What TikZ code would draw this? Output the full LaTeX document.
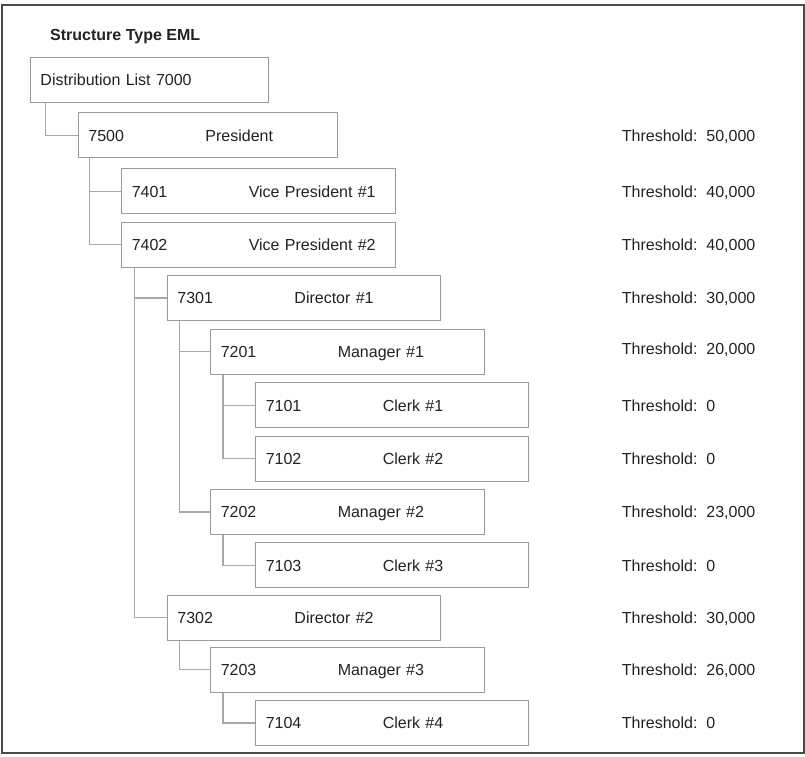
\documentclass[tikz,border=0pt]{standalone}
\usepackage{fontspec}
\setmainfont{Liberation Sans}
\definecolor{txt}{HTML}{222222}
\definecolor{boxc}{HTML}{9A9A9A}
\definecolor{connc}{HTML}{A8A8A8}
\definecolor{framec}{HTML}{4A4A4A}
\begin{document}
\begin{tikzpicture}[x=1pt,y=-1pt,
  every node/.style={font=\fontsize{16}{19}\selectfont, text=txt},
  box/.style={draw=boxc, line width=0.9pt, rectangle, anchor=north west,
    minimum height=45pt, inner xsep=10pt, inner ysep=0pt,
    text height=11.6pt, text depth=0pt, align=left, text width=#1},
  box/.default=253pt,
  conn/.style={draw=connc, line width=1.1pt},
  thr/.style={anchor=west, inner sep=0pt, text height=11.6pt, text depth=0pt},
  frame/.style={draw=framec, line width=2pt}]
\useasboundingbox (0,0) rectangle (805,756);
\draw[frame] (1.5,4.5) rectangle (803.5,752.5);
\coordinate (thrx) at (621.7,0);
\newcommand{\lbl}[2]{\makebox[117pt][l]{#1}#2}

\node[font=\fontsize{16}{19}\selectfont\bfseries, anchor=base west, inner sep=0pt] (title) at (50,40) {Structure Type EML};

\node[box=218pt] (b7000) at (30,57) {Distribution List 7000};
\node[box=239pt] (b7500) at (78,112.3) {\lbl{7500}{President}};
\node[box=254pt] (b7401) at (121.3,168.3) {\lbl{7401}{Vice President \#1}};
\node[box=254pt] (b7402) at (121.3,221.5) {\lbl{7402}{Vice President \#2}};
\node[box] (b7301) at (167,275) {\lbl{7301}{Director \#1}};
\node[box=254pt] (b7201) at (210.3,328.7) {\lbl{7201}{Manager \#1}};
\node[box] (b7101) at (255.3,382.3) {\lbl{7101}{Clerk \#1}};
\node[box] (b7102) at (255.3,435.5) {\lbl{7102}{Clerk \#2}};
\node[box=254pt] (b7202) at (210.3,489) {\lbl{7202}{Manager \#2}};
\node[box] (b7103) at (255.3,542.3) {\lbl{7103}{Clerk \#3}};
\node[box] (b7302) at (167,594.7) {\lbl{7302}{Director \#2}};
\node[box=254pt] (b7203) at (210.3,646.7) {\lbl{7203}{Manager \#3}};
\node[box] (b7104) at (255.3,700) {\lbl{7104}{Clerk \#4}};

\coordinate (r7000) at ([xshift=15.3pt]b7000.south west);
\coordinate (r7500) at ([xshift=11.3pt]b7500.south west);
\coordinate (r7402) at ([xshift=13.4pt]b7402.south west);
\coordinate (r7301) at ([xshift=12.3pt]b7301.south west);
\coordinate (r7201) at ([xshift=12.7pt]b7201.south west);
\coordinate (r7202) at ([xshift=12.7pt]b7202.south west);
\coordinate (r7302) at ([xshift=12.3pt]b7302.south west);
\coordinate (r7203) at ([xshift=12.7pt]b7203.south west);

\draw[conn] (r7000) |- (b7500.west);
\draw[conn] (r7500) |- (b7402.west);
\draw[conn] (r7500 |- b7401.west) -- (b7401.west);
\draw[conn] (r7402) |- (b7302.west);
\draw[conn] (r7402 |- b7301.west) -- (b7301.west);
\draw[conn] (r7301) |- (b7202.west);
\draw[conn] (r7301 |- b7201.west) -- (b7201.west);
\draw[conn] (r7201) |- (b7102.west);
\draw[conn] (r7201 |- b7101.west) -- (b7101.west);
\draw[conn] (r7202) |- (b7103.west);
\draw[conn] (r7302) |- (b7203.west);
\draw[conn] (r7203) |- (b7104.west);

\node[thr] (t7500) at (b7500.west -| thrx) {Threshold:\ \ 50,000};
\node[thr] (t7401) at (b7401.west -| thrx) {Threshold:\ \ 40,000};
\node[thr] (t7402) at (b7402.west -| thrx) {Threshold:\ \ 40,000};
\node[thr] (t7301) at (b7301.west -| thrx) {Threshold:\ \ 30,000};
\node[thr] (t7201) at ([yshift=2.5pt]b7201.west -| thrx) {Threshold:\ \ 20,000};
\node[thr] (t7101) at (b7101.west -| thrx) {Threshold:\ \ 0};
\node[thr] (t7102) at (b7102.west -| thrx) {Threshold:\ \ 0};
\node[thr] (t7202) at (b7202.west -| thrx) {Threshold:\ \ 23,000};
\node[thr] (t7103) at (b7103.west -| thrx) {Threshold:\ \ 0};
\node[thr] (t7302) at (b7302.west -| thrx) {Threshold:\ \ 30,000};
\node[thr] (t7203) at (b7203.west -| thrx) {Threshold:\ \ 26,000};
\node[thr] (t7104) at (b7104.west -| thrx) {Threshold:\ \ 0};
\end{tikzpicture}
\end{document}
